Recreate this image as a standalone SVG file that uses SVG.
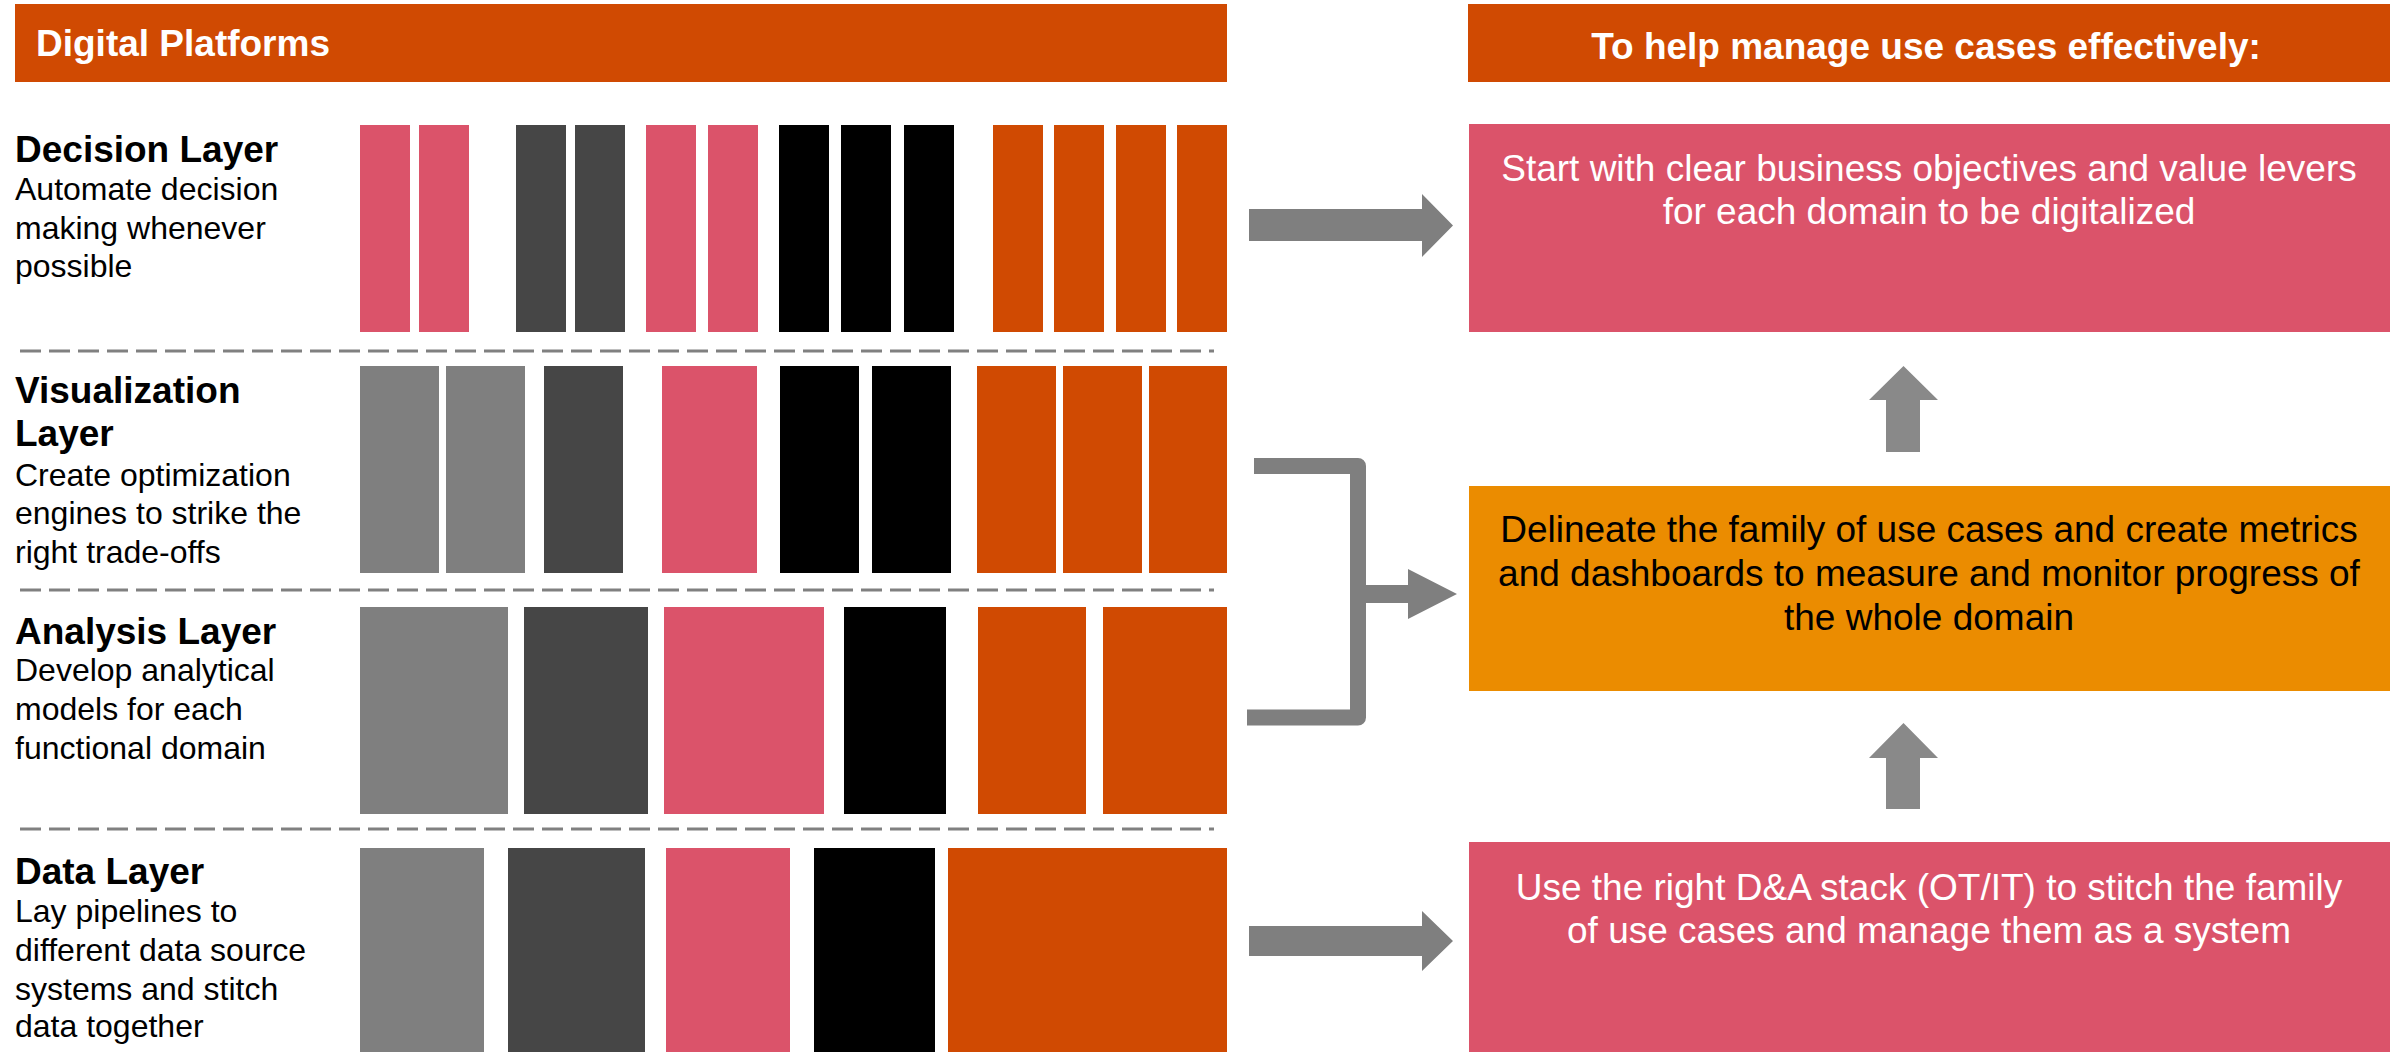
<svg xmlns="http://www.w3.org/2000/svg" width="2390" height="1052" viewBox="0 0 2390 1052">
  <style>
    .orange { fill: #D04A02; }
    .pink { fill: #DB536A; }
    .amber { fill: #EB8C00; }
    .dark { fill: #464646; }
    .grey { fill: #7F7F7F; }
    .black { fill: #000000; }
    .hdr { font-family: "Liberation Sans", Arial, sans-serif; font-weight: bold; font-size: 37px; fill: #FFFFFF; }
    .title { font-family: "Liberation Sans", Arial, sans-serif; font-weight: bold; font-size: 37px; fill: #000000; }
    .body { font-family: "Liberation Sans", Arial, sans-serif; font-size: 32px; fill: #000000; }
    .box { font-family: "Liberation Sans", Arial, sans-serif; font-size: 37px; text-anchor: middle; }
    .divider { stroke: #808080; stroke-width: 3; stroke-dasharray: 21 8; fill: none; }
    .arrow { fill: #7F7F7F; }
    .uparrow { fill: #898989; }
  </style>

  <rect width="2390" height="1052" fill="#FFFFFF"/>

  <!-- Left header -->
  <g id="header-platforms">
    <rect class="orange" x="15" y="4" width="1212" height="78"/>
    <text class="hdr" x="36" y="56">Digital Platforms</text>
  </g>

  <!-- Right header -->
  <g id="header-manage">
    <rect class="orange" x="1468" y="4" width="922" height="78"/>
    <text class="hdr" x="1926" y="59" text-anchor="middle">To help manage use cases effectively:</text>
  </g>

  <!-- Layer dividers -->
  <g id="dividers">
    <line class="divider" x1="20" y1="351" x2="1214" y2="351"/>
    <line class="divider" x1="20" y1="590" x2="1214" y2="590"/>
    <line class="divider" x1="20" y1="829" x2="1214" y2="829"/>
  </g>

  <!-- Decision layer -->
  <g id="layer-decision">
    <text class="title" x="15" y="162">Decision Layer</text>
    <text class="body" x="15" y="200">Automate decision</text>
    <text class="body" x="15" y="238.5">making whenever</text>
    <text class="body" x="15" y="277">possible</text>
    <rect class="pink" x="360" y="125" width="50" height="207"/>
    <rect class="pink" x="419" y="125" width="50" height="207"/>
    <rect class="dark" x="516" y="125" width="50" height="207"/>
    <rect class="dark" x="575" y="125" width="50" height="207"/>
    <rect class="pink" x="646" y="125" width="50" height="207"/>
    <rect class="pink" x="708" y="125" width="50" height="207"/>
    <rect class="black" x="779" y="125" width="50" height="207"/>
    <rect class="black" x="841" y="125" width="50" height="207"/>
    <rect class="black" x="904" y="125" width="50" height="207"/>
    <rect class="orange" x="993" y="125" width="50" height="207"/>
    <rect class="orange" x="1054" y="125" width="50" height="207"/>
    <rect class="orange" x="1116" y="125" width="50" height="207"/>
    <rect class="orange" x="1177" y="125" width="50" height="207"/>
  </g>

  <!-- Visualization layer -->
  <g id="layer-visualization">
    <text class="title" x="15" y="403">Visualization</text>
    <text class="title" x="15" y="446">Layer</text>
    <text class="body" x="15" y="485.5">Create optimization</text>
    <text class="body" x="15" y="524">engines to strike the</text>
    <text class="body" x="15" y="562.5">right trade-offs</text>
    <rect class="grey" x="360" y="366" width="79" height="207"/>
    <rect class="grey" x="446" y="366" width="79" height="207"/>
    <rect class="dark" x="544" y="366" width="79" height="207"/>
    <rect class="pink" x="662" y="366" width="95" height="207"/>
    <rect class="black" x="780" y="366" width="79" height="207"/>
    <rect class="black" x="872" y="366" width="79" height="207"/>
    <rect class="orange" x="977" y="366" width="79" height="207"/>
    <rect class="orange" x="1063" y="366" width="79" height="207"/>
    <rect class="orange" x="1149" y="366" width="78" height="207"/>
  </g>

  <!-- Analysis layer -->
  <g id="layer-analysis">
    <text class="title" x="15" y="644">Analysis Layer</text>
    <text class="body" x="15" y="681">Develop analytical</text>
    <text class="body" x="15" y="720">models for each</text>
    <text class="body" x="15" y="759">functional domain</text>
    <rect class="grey" x="360" y="607" width="148" height="207"/>
    <rect class="dark" x="524" y="607" width="124" height="207"/>
    <rect class="pink" x="664" y="607" width="160" height="207"/>
    <rect class="black" x="844" y="607" width="102" height="207"/>
    <rect class="orange" x="978" y="607" width="108" height="207"/>
    <rect class="orange" x="1103" y="607" width="124" height="207"/>
  </g>

  <!-- Data layer -->
  <g id="layer-data">
    <text class="title" x="15" y="884">Data Layer</text>
    <text class="body" x="15" y="922">Lay pipelines to</text>
    <text class="body" x="15" y="961">different data source</text>
    <text class="body" x="15" y="999.5">systems and stitch</text>
    <text class="body" x="15" y="1037">data together</text>
    <rect class="grey" x="360" y="848" width="124" height="204"/>
    <rect class="dark" x="508" y="848" width="137" height="204"/>
    <rect class="pink" x="666" y="848" width="124" height="204"/>
    <rect class="black" x="814" y="848" width="121" height="204"/>
    <rect class="orange" x="948" y="848" width="279" height="204"/>
  </g>

  <!-- Right-hand guidance boxes -->
  <g id="box-objectives">
    <rect class="pink" x="1469" y="124" width="921" height="208"/>
    <text class="box" x="1929" y="181" fill="#FFFFFF">Start with clear business objectives and value levers</text>
    <text class="box" x="1929" y="223.5" fill="#FFFFFF">for each domain to be digitalized</text>
  </g>

  <g id="box-metrics">
    <rect class="amber" x="1469" y="486" width="921" height="205"/>
    <text class="box" x="1929" y="542" fill="#000000">Delineate the family of use cases and create metrics</text>
    <text class="box" x="1929" y="586" fill="#000000">and dashboards to measure and monitor progress of</text>
    <text class="box" x="1929" y="630" fill="#000000">the whole domain</text>
  </g>

  <g id="box-stack">
    <rect class="pink" x="1469" y="842" width="921" height="210"/>
    <text class="box" x="1929" y="900" fill="#FFFFFF">Use the right D&amp;A stack (OT/IT) to stitch the family</text>
    <text class="box" x="1929" y="943" fill="#FFFFFF">of use cases and manage them as a system</text>
  </g>

  <!-- Connectors -->
  <g id="connectors">
    <!-- decision layer to objectives -->
    <polygon class="arrow" points="1249,209 1422,209 1422,194 1453,225.5 1422,257 1422,241 1249,241"/>
    <!-- bracket joining visualization and analysis layers -->
    <path d="M1254 466 H1358 V717.5 H1247" fill="none" stroke="#7F7F7F" stroke-width="16" stroke-linejoin="round"/>
    <polygon class="arrow" points="1358,585 1408,585 1408,569 1457,594 1408,619 1408,603 1358,603"/>
    <!-- data layer to stack -->
    <polygon class="arrow" points="1249,926 1422,926 1422,911 1453,941 1422,971 1422,956 1249,956"/>
    <!-- upward flow between boxes -->
    <polygon class="uparrow" points="1886,452 1886,400 1869,400 1903.5,366 1938,400 1920,400 1920,452"/>
    <polygon class="uparrow" points="1886,809 1886,758 1869,758 1903.5,723 1938,758 1920,758 1920,809"/>
  </g>
</svg>
